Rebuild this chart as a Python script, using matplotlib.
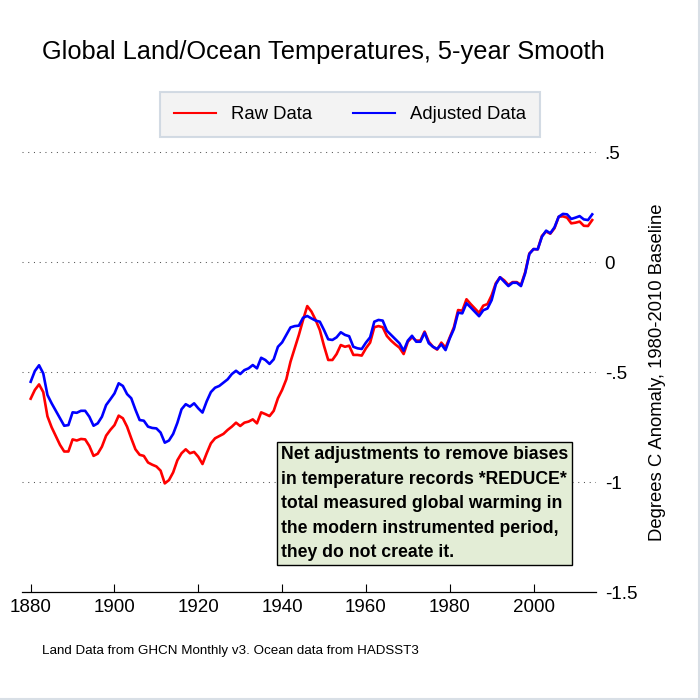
# モジュールのインポート
import numpy as np
import matplotlib.pyplot as plt
from matplotlib.lines import Line2D

plt.rcParams['font.family'] = ['Liberation Sans', 'DejaVu Sans']

# データ（グラフから読み取った値, 1880-2014）
years = np.arange(1880, 2015)

raw_data = [
    -0.620, -0.580, -0.555, -0.590, -0.700, -0.750, -0.790, -0.830, -0.860, -0.860,
    -0.805, -0.810, -0.803, -0.805, -0.835, -0.880, -0.870, -0.838, -0.788, -0.762,
    -0.740, -0.697, -0.709, -0.747, -0.800, -0.850, -0.875, -0.880, -0.910, -0.920,
    -0.928, -0.947, -1.005, -0.990, -0.955, -0.900, -0.868, -0.850, -0.868, -0.862,
    -0.884, -0.917, -0.868, -0.823, -0.800, -0.790, -0.780, -0.762, -0.747, -0.729,
    -0.744, -0.729, -0.724, -0.714, -0.732, -0.682, -0.690, -0.699, -0.675, -0.618,
    -0.580, -0.532, -0.452, -0.391, -0.330, -0.262, -0.199, -0.224, -0.262, -0.308,
    -0.380, -0.444, -0.444, -0.417, -0.376, -0.384, -0.379, -0.421, -0.421, -0.424,
    -0.391, -0.365, -0.295, -0.290, -0.295, -0.335, -0.356, -0.373, -0.388, -0.417,
    -0.361, -0.341, -0.356, -0.356, -0.315, -0.361, -0.384, -0.397, -0.365, -0.388,
    -0.341, -0.295, -0.217, -0.220, -0.168, -0.190, -0.210, -0.230, -0.197, -0.190,
    -0.150, -0.095, -0.068, -0.082, -0.103, -0.090, -0.090, -0.103, -0.045, 0.040,
    0.060, 0.059, 0.120, 0.140, 0.130, 0.155, 0.207, 0.209, 0.203, 0.177,
    0.180, 0.185, 0.166, 0.165, 0.192,
]

adjusted_data = [
    -0.543, -0.494, -0.468, -0.505, -0.603, -0.641, -0.675, -0.710, -0.743, -0.740,
    -0.682, -0.684, -0.675, -0.675, -0.702, -0.743, -0.732, -0.702, -0.649, -0.623,
    -0.596, -0.550, -0.562, -0.599, -0.618, -0.670, -0.717, -0.720, -0.747, -0.753,
    -0.755, -0.774, -0.820, -0.810, -0.780, -0.730, -0.668, -0.645, -0.656, -0.641,
    -0.664, -0.683, -0.632, -0.590, -0.570, -0.562, -0.547, -0.532, -0.508, -0.493,
    -0.508, -0.490, -0.482, -0.467, -0.482, -0.434, -0.444, -0.462, -0.441, -0.384,
    -0.364, -0.330, -0.296, -0.290, -0.288, -0.252, -0.244, -0.255, -0.265, -0.270,
    -0.308, -0.350, -0.353, -0.341, -0.318, -0.330, -0.336, -0.384, -0.391, -0.394,
    -0.365, -0.341, -0.270, -0.262, -0.265, -0.311, -0.330, -0.349, -0.368, -0.402,
    -0.356, -0.334, -0.361, -0.361, -0.320, -0.368, -0.384, -0.394, -0.373, -0.399,
    -0.346, -0.303, -0.229, -0.232, -0.186, -0.205, -0.225, -0.245, -0.218, -0.210,
    -0.172, -0.100, -0.068, -0.088, -0.108, -0.093, -0.093, -0.108, -0.050, 0.038,
    0.060, 0.059, 0.116, 0.144, 0.132, 0.159, 0.207, 0.220, 0.218, 0.197,
    0.203, 0.210, 0.195, 0.192, 0.218,
]

x_ticks = [1880, 1900, 1920, 1940, 1960, 1980, 2000]
y_ticks = [0.5, 0, -0.5, -1, -1.5]
y_tick_labels = ['.5', '0', '-.5', '-1', '-1.5']

note = ('Net adjustments to remove biases\n'
        'in temperature records *REDUCE*\n'
        'total measured global warming in\n'
        'the modern instrumented period,\n'
        'they do not create it.')

# 図の作成
fig = plt.figure(figsize=(7, 7), dpi=100)
ax = fig.add_axes([22.3 / 700, 1 - 592.3 / 700, 574.1 / 700, 462 / 700])

line_raw, = ax.plot(years, raw_data, color='#ff0000', lw=1.9, label='Raw Data')
line_adj, = ax.plot(years, adjusted_data, color='#0000ff', lw=1.9, label='Adjusted Data')

ax.set_xlim(1878, 2015)
ax.set_ylim(-1.5, 0.6)

# 軸の設定
for side in ['top', 'left', 'right']:
    ax.spines[side].set_visible(False)
ax.spines['bottom'].set_linewidth(0.9)

ax.set_xticks(x_ticks)
ax.tick_params(axis='x', direction='in', length=6, width=0.8, pad=5, labelsize=13.5)
ax.yaxis.tick_right()
ax.set_yticks(y_ticks)
ax.set_yticklabels(y_tick_labels)
ax.tick_params(axis='y', length=0, pad=6, labelsize=13.5)
for label in ax.get_yticklabels():
    label.set_horizontalalignment('left')

# 点線のグリッド
for y in y_ticks[:-1]:
    ax.axhline(y, color='#555555', lw=0.75, linestyle=(0, (1, 4.5)), zorder=0)

# タイトル・ラベル
fig.text(323 / 700, 1 - 52 / 700, 'Global Land/Ocean Temperatures, 5-year Smooth',
         ha='center', va='center', fontsize=18.3)
fig.text(657 / 700, 1 - 372 / 700, 'Degrees C Anomaly, 1980-2010 Baseline',
         rotation=90, ha='center', va='center', fontsize=13.3)
fig.text(42 / 700, 1 - 651 / 700, 'Land Data from GHCN Monthly v3. Ocean data from HADSST3',
         ha='left', va='center', fontsize=9.6)

# 注釈ボックス
fig.text(281 / 700, 1 - 446 / 700, note, ha='left', va='top', fontsize=12.7,
         fontweight='bold', linespacing=1.58,
         bbox=dict(boxstyle='square,pad=0.2', facecolor='#e3edd6', edgecolor='black', lw=1))

# 凡例
leg = fig.legend(handles=[line_raw, line_adj], loc='center',
                 bbox_to_anchor=(350 / 700, 1 - 114.5 / 700), ncol=2,
                 fontsize=13.3, frameon=True, fancybox=False,
                 facecolor='#f0f0f0', edgecolor='#c9d3de',
                 handlelength=2.3, handletextpad=0.8, columnspacing=2.2, borderpad=0.75)
leg.get_frame().set_linewidth(1.5)
for line in leg.get_lines():
    line.set_linewidth(1.5)

# 枠線（右と下）
fig.add_artist(Line2D([0, 1], [1.5 / 700, 1.5 / 700], color='#d8dfe6', lw=1.5))
fig.add_artist(Line2D([1 - 1.5 / 700, 1 - 1.5 / 700], [0, 1], color='#d8dfe6', lw=1.5))

fig.savefig('out.png', dpi=100)
